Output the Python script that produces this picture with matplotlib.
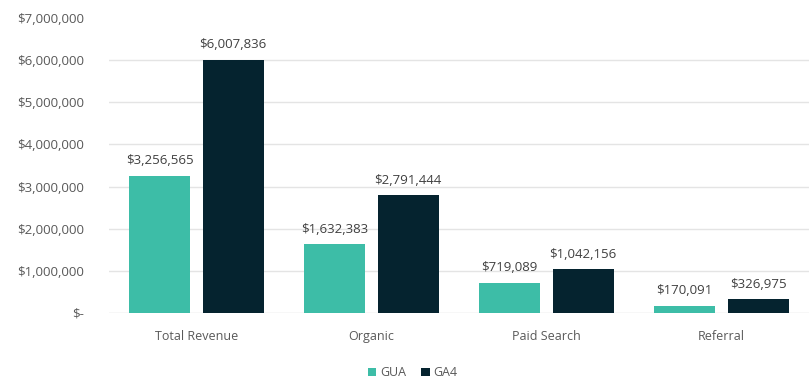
import matplotlib.pyplot as plt
import numpy as np
from matplotlib.ticker import FuncFormatter

plt.rcParams["font.family"] = ["Open Sans", "DejaVu Sans"]

categories = ["Total Revenue", "Organic", "Paid Search", "Referral"]
gua_values = [3256565, 1632383, 719089, 170091]
ga4_values = [6007836, 2791444, 1042156, 326975]
series_names = ["GUA", "GA4"]

GUA_COLOR = "#3dbda7"
GA4_COLOR = "#05232f"
TEXT_COLOR = "#595959"


def money(v, _pos=None):
    if v == 0:
        return "$-"
    return f"${v:,.0f}"


fig = plt.figure(figsize=(8.09, 3.81), dpi=100)
ax = fig.add_axes([0.1347, 0.1785, 0.8653, 0.7743])

x = np.arange(len(categories))
width = 0.35
offset = 0.21

bars_gua = ax.bar(x - offset, gua_values, width, color=GUA_COLOR, label=series_names[0], zorder=3)
bars_ga4 = ax.bar(x + offset, ga4_values, width, color=GA4_COLOR, label=series_names[1], zorder=3)

for bars in (bars_gua, bars_ga4):
    for b in bars:
        ax.annotate(money(b.get_height()), (b.get_x() + b.get_width() / 2, b.get_height()),
                    xytext=(0, 6), textcoords="offset points", ha="center", va="bottom",
                    fontsize=9.5, color="#404040")

ax.set_xlim(-0.5, len(categories) - 0.5)
ax.set_ylim(0, 7000000)
ax.set_yticks(np.arange(0, 7000001, 1000000))
ax.yaxis.set_major_formatter(FuncFormatter(money))
ax.set_xticks(x)
ax.set_xticklabels(categories)

# gridlines below the top of the range only
for yv in np.arange(1000000, 6000001, 1000000):
    ax.axhline(yv, color="#e4e4e4", linewidth=1, zorder=0)
for s in ax.spines.values():
    s.set_visible(False)
ax.axhline(0, color="#d9d9d9", linewidth=1, zorder=2)
ax.tick_params(axis="y", length=0, pad=18, labelsize=9.5, labelcolor=TEXT_COLOR)
ax.tick_params(axis="x", length=0, pad=12, labelsize=9, labelcolor=TEXT_COLOR)

fig.legend(loc="lower center", bbox_to_anchor=(0.51, -0.025), ncol=2, frameon=False,
           fontsize=9, handlelength=0.7, handleheight=0.7, handletextpad=0.3,
           columnspacing=1.2, labelcolor=TEXT_COLOR)

fig.savefig("out.png", dpi=100)
